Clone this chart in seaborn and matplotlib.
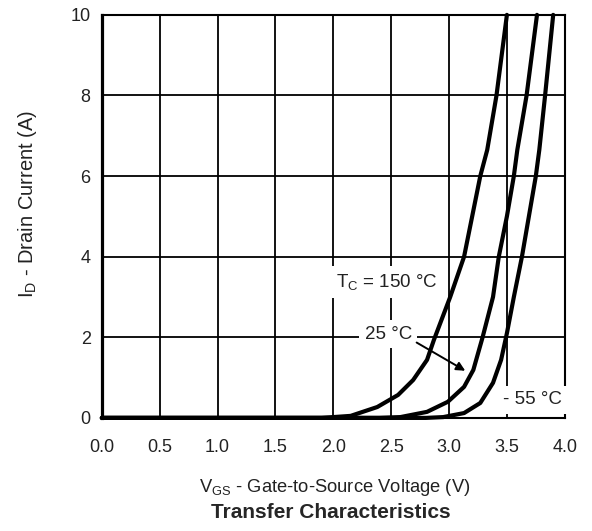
import numpy as np
import pandas as pd
import matplotlib
matplotlib.use("Agg")
import matplotlib.pyplot as plt
import seaborn as sns

# Transfer characteristics
vgs_150 = [0.0, 1.9, 2.15, 2.38, 2.56, 2.69, 2.81, 2.87, 3.01, 3.13, 3.2, 3.27, 3.33, 3.41, 3.5]
id_150 = [0.0, 0.0, 0.05, 0.27, 0.57, 0.94, 1.44, 1.94, 3.0, 4.0, 5.0, 6.0, 6.65, 8.0, 10.0]

vgs_25 = [0.0, 2.4, 2.58, 2.81, 2.99, 3.13, 3.21, 3.29, 3.38, 3.43, 3.5, 3.56, 3.59, 3.67, 3.76]
id_25 = [0.0, 0.0, 0.02, 0.15, 0.4, 0.77, 1.19, 2.0, 3.0, 4.0, 5.0, 6.0, 6.65, 8.0, 10.0]

vgs_m55 = [0.0, 2.8, 2.95, 3.13, 3.27, 3.38, 3.45, 3.5, 3.56, 3.63, 3.69, 3.75, 3.78, 3.83, 3.9]
id_m55 = [0.0, 0.0, 0.02, 0.12, 0.37, 0.87, 1.44, 2.1, 3.0, 4.0, 5.0, 6.0, 6.65, 8.0, 10.0]

x_ticks = [0.0, 0.5, 1.0, 1.5, 2.0, 2.5, 3.0, 3.5, 4.0]
y_ticks = [0, 2, 4, 6, 8, 10]

df = pd.concat([
    pd.DataFrame({"vgs": vgs_150, "id": id_150, "tc": "150"}),
    pd.DataFrame({"vgs": vgs_25, "id": id_25, "tc": "25"}),
    pd.DataFrame({"vgs": vgs_m55, "id": id_m55, "tc": "-55"}),
])

sns.set_style("white")
plt.rcParams["font.family"] = ["Liberation Sans", "DejaVu Sans"]
plt.rcParams["mathtext.fontset"] = "custom"
plt.rcParams["mathtext.rm"] = "Liberation Sans"
plt.rcParams["mathtext.it"] = "Liberation Sans"

txt = "#222222"
fig = plt.figure(figsize=(5.92, 5.31), dpi=100)
ax = fig.add_axes([0.172, 0.213, 0.782, 0.759])

for tc in ["150", "25", "-55"]:
    sns.lineplot(data=df[df["tc"] == tc], x="vgs", y="id", ax=ax,
                 color="black", lw=3.0, sort=False, estimator=None,
                 zorder=3, clip_on=False)

ax.set_xlim(0, 4)
ax.set_ylim(0, 10)
ax.set_xticks(x_ticks)
ax.set_xticklabels([f"{v:.1f}" for v in x_ticks])
ax.set_yticks(y_ticks)
ax.tick_params(axis="both", length=0, labelsize=13, colors=txt)
ax.tick_params(axis="x", pad=15)
ax.tick_params(axis="y", pad=8)
ax.grid(True, color="black", lw=1.3)
for s in ax.spines.values():
    s.set_color("black")
    s.set_linewidth(1.5)
ax.spines["left"].set_linewidth(2.3)

ax.set_xlabel("")
ax.set_ylabel("")
fig.text(0.566, 1 - 487 / 531, r"V$_\mathrm{GS}$ - Gate-to-Source Voltage (V)",
         ha="center", va="center", fontsize=13.2, color=txt)
fig.text(28 / 592, 1 - 204 / 531, r"I$_\mathrm{D}$ - Drain Current (A)",
         ha="center", va="center", rotation=90, fontsize=14.5, color=txt)
fig.text(0.559, 1 - 513 / 531, "Transfer Characteristics", ha="center",
         va="center", fontsize=15, fontweight="bold")

box = dict(facecolor="white", edgecolor="none", pad=4)
ax.text(2.02, 3.37, r"T$_\mathrm{C}$ = 150 °C", fontsize=13.5, color=txt,
        va="center", ha="left", bbox=box, zorder=4)
ax.text(2.27, 2.08, "25 °C", fontsize=13.5, color=txt,
        va="center", ha="left", bbox=box, zorder=4)
ax.text(3.47, 0.45, "- 55 °C", fontsize=13.5, color=txt,
        va="center", ha="left", bbox=box, zorder=4)
ax.annotate("", xy=(3.14, 1.17), xytext=(2.72, 1.87),
            arrowprops=dict(arrowstyle="-|>", color="black", lw=1.4,
                            mutation_scale=13, shrinkA=0, shrinkB=0), zorder=5)

fig.savefig("out.png", dpi=100)
